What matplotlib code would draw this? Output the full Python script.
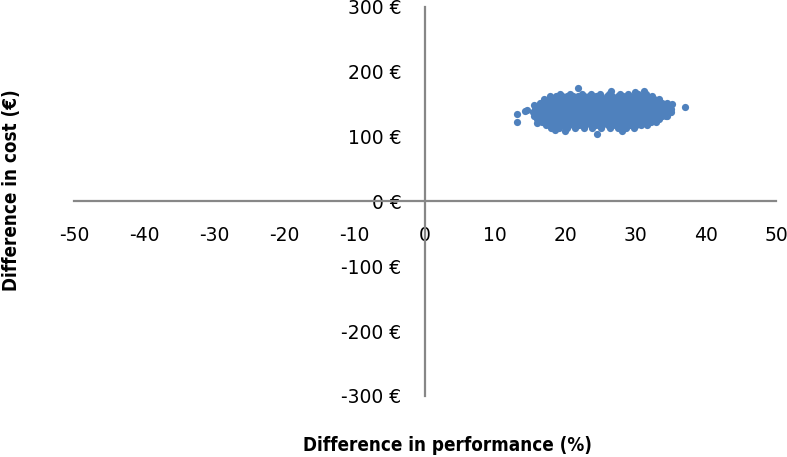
import matplotlib
matplotlib.use("Agg")
from matplotlib import pyplot as plt
import numpy as np

# tick values shown on the chart
x_ticks = [-50, -40, -30, -20, -10, 0, 10, 20, 30, 40, 50]
y_ticks = [-300, -200, -100, 0, 100, 200, 300]

# simulated cloud (cost difference -> perf differences)
cloud_rows = [
    (166, [19.2, 20.6, 22.4, 23.6, 25.0, 26.2, 27.8, 28.9, 30.3, 31.5]),
    (162, [17.8, 18.6, 19.5, 20.2, 21.1, 21.8, 22.7, 23.4, 24.3, 25.0, 25.9, 26.6, 27.5,
           28.2, 29.1, 29.8, 30.7, 31.4, 32.3]),
    (157, [16.9, 17.6, 18.3, 19.1, 19.9, 20.6, 21.5, 22.3, 23.0, 23.8, 24.7, 25.4, 26.3,
           27.0, 27.8, 28.6, 29.5, 30.2, 31.0, 31.8, 32.6, 33.3]),
    (152, [16.4, 17.2, 18.0, 18.7, 19.5, 20.3, 21.1, 21.9, 22.6, 23.4, 24.2, 25.0, 25.8,
           26.6, 27.4, 28.2, 29.0, 29.8, 30.6, 31.4, 32.2, 33.0, 33.8, 34.5]),
    (147, [15.9, 16.8, 17.5, 18.3, 19.1, 19.9, 20.7, 21.5, 22.2, 23.0, 23.8, 24.6, 25.4,
           26.2, 27.0, 27.8, 28.6, 29.4, 30.2, 31.0, 31.8, 32.6, 33.4, 34.2, 34.9]),
    (142, [15.7, 16.4, 17.2, 18.0, 18.8, 19.5, 20.3, 21.1, 21.9, 22.7, 23.5, 24.2, 25.0,
           25.8, 26.6, 27.4, 28.2, 29.0, 29.8, 30.6, 31.4, 32.2, 33.0, 33.8, 34.6, 35.1]),
    (137, [15.4, 16.1, 16.8, 17.6, 18.4, 19.2, 19.9, 20.7, 21.5, 22.3, 23.1, 23.9, 24.6,
           25.4, 26.2, 27.0, 27.8, 28.6, 29.4, 30.2, 31.0, 31.8, 32.6, 33.4, 34.2, 34.9]),
    (132, [15.5, 16.4, 17.2, 18.0, 18.8, 19.5, 20.3, 21.1, 21.9, 22.7, 23.5, 24.3, 25.0,
           25.8, 26.6, 27.4, 28.2, 29.0, 29.8, 30.6, 31.4, 32.2, 33.0, 33.8, 34.5]),
    (127, [15.9, 16.8, 17.6, 18.4, 19.1, 19.9, 20.7, 21.5, 22.3, 23.1, 23.9, 24.6, 25.4,
           26.2, 27.0, 27.8, 28.6, 29.4, 30.2, 31.0, 31.8, 32.6, 33.4]),
    (122, [16.6, 17.3, 18.0, 18.8, 19.5, 20.3, 21.1, 21.9, 22.7, 23.5, 24.3, 25.0, 25.8,
           26.6, 27.4, 28.2, 29.0, 29.8, 30.6, 31.4, 32.2, 32.9]),
    (117, [17.2, 18.1, 18.9, 19.7, 20.5, 21.3, 22.0, 22.8, 23.6, 24.4, 25.2, 26.0, 26.8,
           27.6, 28.4, 29.2, 30.0, 30.8, 31.6]),
    (113, [18.0, 19.1, 20.2, 21.4, 22.6, 23.8, 25.1, 26.3, 27.5, 28.7, 29.8]),
]

# stray points around the cloud
outlier_perf = [13.1, 13.1, 14.2, 14.6, 15.6, 21.8, 24.5, 37.1, 29.9, 31.2, 34.4,
                18.5, 20.0, 28.0, 35.2, 35.0, 16.0, 17.5, 26.5]
outlier_cost = [135, 122, 139, 141, 148, 174, 104, 146, 169, 170, 131,
                110, 108, 108, 150, 138, 120, 155, 170]

perf_diff = [x for y, xs in cloud_rows for x in xs] + outlier_perf
cost_diff = [y for y, xs in cloud_rows for x in xs] + outlier_cost

plt.rcParams["font.family"] = ["DejaVu Sans"]

fig = plt.figure(figsize=(7.87, 4.57), dpi=100)
ax = fig.add_axes([0.094, 0.1335, 0.892, 0.852])

ax.scatter(perf_diff, cost_diff, s=27, color="#4f81bd", linewidths=0, zorder=3)

ax.set_xlim(-50, 50)
ax.set_ylim(-300, 300)
ax.set_xticks(x_ticks)
ax.set_yticks(y_ticks)
ax.set_xticklabels([str(v) for v in x_ticks], fontstretch="condensed")
ax.set_yticklabels([f"{v} \u20ac" for v in y_ticks], fontstretch="condensed")

for side in ["top", "right"]:
    ax.spines[side].set_visible(False)
for side in ["left", "bottom"]:
    ax.spines[side].set_position("zero")
    ax.spines[side].set_color("#878787")
    ax.spines[side].set_linewidth(1.6)

ax.tick_params(axis="both", length=0, labelsize=13.5, colors="black")
ax.tick_params(axis="y", pad=17)
ax.tick_params(axis="x", pad=18)

fig.text(0.014, 0.585, "Difference in cost (\u20ac)", rotation=90, ha="center", va="center",
         fontsize=13.5, fontweight="bold", fontstretch="condensed")
fig.text(0.568, 0.026, "Difference in performance (%)", ha="center", va="center",
         fontsize=13.5, fontweight="bold", fontstretch="condensed")

plt.savefig("out.png", dpi=100)
